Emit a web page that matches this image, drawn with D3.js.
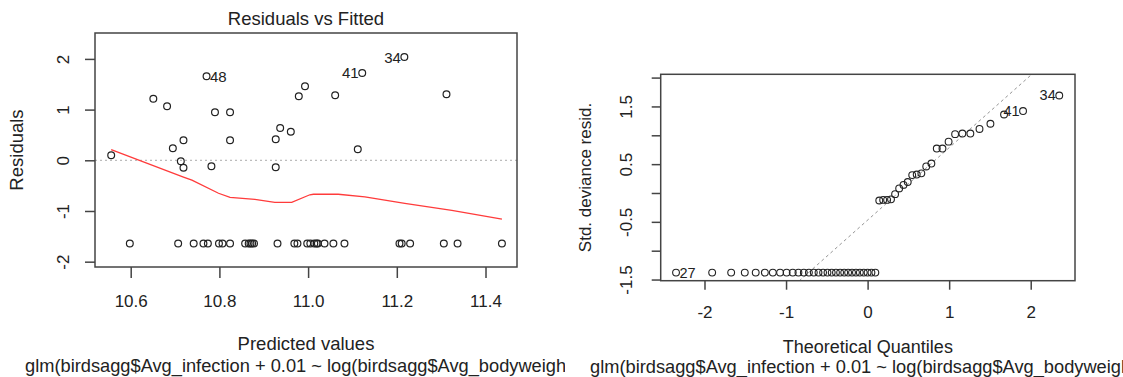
<!DOCTYPE html>
<html>
<head>
<meta charset="utf-8">
<script src="https://cdn.jsdelivr.net/npm/d3@7"></script>
<style>
  body { margin: 0; background: #fff; }
  svg { display: block; font-family: "Liberation Sans", Arial, sans-serif; }
  text { fill: #222; }
</style>
</head>
<body>
<svg id="chart" width="1123" height="377"></svg>
<script>
// ---- Residuals vs Fitted ----
const fitted = [10.556, 10.651, 10.682, 10.695, 10.719, 10.713, 10.719, 10.771, 10.782, 10.790, 10.824, 10.824,
    10.927, 10.937, 10.961, 10.927, 10.979, 10.993, 11.061, 11.122, 11.217, 11.112, 11.312,
    10.598, 10.707, 10.742, 10.764, 10.774, 10.799, 10.807, 10.824, 10.858, 10.866, 10.870, 10.874, 10.878,
    10.931, 10.969, 10.976, 10.998, 11.005, 11.014, 11.019, 11.022, 11.037, 11.057, 11.082,
    11.206, 11.211, 11.230, 11.306, 11.337, 11.437];
const residuals = [0.10, 1.215, 1.065, 0.237, 0.394, -0.02, -0.146, 1.657, -0.118, 0.947, 0.947, 0.394,
    0.414, 0.637, 0.564, -0.138, 1.262, 1.46, 1.282, 1.722, 2.037, 0.217, 1.302,
    -1.64, -1.64, -1.64, -1.64, -1.64, -1.64, -1.64, -1.64, -1.64, -1.64, -1.64, -1.64, -1.64,
    -1.64, -1.64, -1.64, -1.64, -1.64, -1.64, -1.64, -1.64, -1.64, -1.64, -1.64,
    -1.64, -1.64, -1.64, -1.64, -1.64, -1.64];
const residLabels = [{i: 7, id: "48"}, {i: 19, id: "41"}, {i: 20, id: "34"}];
const smoothX = [10.556, 10.719, 10.738, 10.798, 10.824, 10.88, 10.925, 10.963, 11.004, 11.012, 11.068, 11.128, 11.218, 11.324, 11.437];
const smoothY = [0.21, -0.33, -0.39, -0.65, -0.73, -0.77, -0.83, -0.83, -0.68, -0.67, -0.67, -0.72, -0.85, -0.99, -1.16];
const fittedTicks = [10.6, 10.8, 11.0, 11.2, 11.4];
const fittedTickLabels = ["10.6", "10.8", "11.0", "11.2", "11.4"];
const residTicks = [-2, -1, 0, 1, 2];
const residTickLabels = ["-2", "-1", "0", "1", "2"];

// ---- Normal Q-Q ----
const theoretical = [-2.349, -1.906, -1.673, -1.506, -1.372, -1.260, -1.162, -1.073, -0.993, -0.918,
    -0.848, -0.782, -0.720, -0.660, -0.602, -0.546, -0.492, -0.440, -0.388, -0.337,
    -0.287, -0.239, -0.191, -0.143, -0.095, -0.047, 0.000, 0.047, 0.095,
    0.143, 0.191, 0.239, 0.287, 0.337, 0.387, 0.440, 0.492, 0.547, 0.602, 0.659, 0.719,
    0.782, 0.848, 0.918, 0.993, 1.073, 1.162, 1.260, 1.372, 1.506, 1.673, 1.906, 2.350];
const stdResid = [-1.38, -1.38, -1.38, -1.38, -1.38, -1.38, -1.38, -1.38, -1.38, -1.38,
    -1.38, -1.38, -1.38, -1.38, -1.38, -1.38, -1.38, -1.38, -1.38, -1.38,
    -1.38, -1.38, -1.38, -1.38, -1.38, -1.38, -1.38, -1.38, -1.38,
    -0.13, -0.12, -0.12, -0.11, -0.02, 0.08, 0.14, 0.19, 0.31, 0.32, 0.34, 0.46,
    0.51, 0.77, 0.77, 0.89, 1.02, 1.03, 1.03, 1.11, 1.20, 1.36, 1.42, 1.69];
const qqLabels = [{i: 0, id: "27", side: "right"}, {i: 51, id: "41", side: "left"}, {i: 52, id: "34", side: "left"}];
const qqLine = {intercept: -0.47, slope: 1.255};
const quantTicks = [-2, -1, 0, 1, 2];
const quantTickLabels = ["-2", "-1", "0", "1", "2"];
const stdTicks = [-1.5, -1.0, -0.5, 0, 0.5, 1.0, 1.5, 2.0];
const stdTickLabels = ["-1.5", "", "-0.5", "", "0.5", "", "1.5", ""];

const subTitle = "glm(birdsagg$Avg_infection + 0.01 ~ log(birdsagg$Avg_bodyweight))";

const svg = d3.select("#chart");
const defs = svg.append("defs");
defs.append("clipPath").attr("id", "leftClip").append("rect")
    .attr("x", 0).attr("y", 0).attr("width", 565).attr("height", 377);

// ===== left panel =====
let L = {left: 95, right: 517, top: 33, bottom: 267};
let x1 = d3.scaleLinear().domain([10.5195, 11.471]).range([L.left, L.right]);
let y1 = d3.scaleLinear().domain([-2.105, 2.511]).range([L.bottom, L.top]);

let left = svg.append("g").attr("clip-path", "url(#leftClip)");

left.append("line")
    .attr("x1", L.left).attr("x2", L.right)
    .attr("y1", y1(0)).attr("y2", y1(0))
    .attr("stroke", "#aaa").attr("stroke-width", 1).attr("stroke-dasharray", "2,3");

left.selectAll("circle.pt")
    .data(fitted)
    .enter().append("circle")
    .attr("class", "pt")
    .attr("cx", function(d) { return x1(d); })
    .attr("cy", function(d, i) { return y1(residuals[i]); })
    .attr("r", 3.4)
    .attr("fill", "none")
    .attr("stroke", "#222")
    .attr("stroke-width", 1.2);

left.append("path")
    .datum(smoothX)
    .attr("d", d3.line()
        .x(function(d) { return x1(d); })
        .y(function(d, i) { return y1(smoothY[i]); }))
    .attr("fill", "none")
    .attr("stroke", "#ff3b3b")
    .attr("stroke-width", 1.3);

left.selectAll("text.id")
    .data(residLabels)
    .enter().append("text")
    .attr("x", function(d) { return x1(fitted[d.i]) + (d.id === "48" ? 3.5 : -3.5); })
    .attr("y", function(d) { return y1(residuals[d.i]) + 5.5; })
    .attr("text-anchor", function(d) { return d.id === "48" ? "start" : "end"; })
    .style("font-size", "15px")
    .text(function(d) { return d.id; });

left.append("rect")
    .attr("x", L.left).attr("y", L.top)
    .attr("width", L.right - L.left).attr("height", L.bottom - L.top)
    .attr("fill", "none").attr("stroke", "#444").attr("stroke-width", 1.5);

let xAxis1 = left.append("g")
    .attr("transform", "translate(0," + L.bottom + ")")
    .call(d3.axisBottom(x1).tickValues(fittedTicks).tickSize(11)
        .tickFormat(function(d, i) { return fittedTickLabels[i]; }));
xAxis1.select(".domain").remove();
xAxis1.selectAll("line").attr("stroke", "#444").attr("stroke-width", 1.5);
xAxis1.selectAll("text").attr("y", 40).attr("dy", 0)
    .style("font-size", "17px").attr("fill", "#222").attr("font-family", null);

let yAxis1 = left.append("g")
    .attr("transform", "translate(" + L.left + ",0)")
    .call(d3.axisLeft(y1).tickValues(residTicks).tickSize(10)
        .tickFormat(function(d, i) { return residTickLabels[i]; }));
yAxis1.select(".domain").remove();
yAxis1.selectAll("line").attr("stroke", "#444").attr("stroke-width", 1.5);
yAxis1.selectAll("text")
    .attr("transform", "rotate(-90)")
    .attr("x", 0).attr("y", -26).attr("dy", 0)
    .attr("text-anchor", "middle")
    .style("font-size", "17px").attr("fill", "#222").attr("font-family", null);

left.append("text")
    .attr("x", (L.left + L.right) / 2).attr("y", 25)
    .attr("text-anchor", "middle").style("font-size", "18.5px")
    .text("Residuals vs Fitted");
left.append("text")
    .attr("transform", "translate(23," + ((L.top + L.bottom) / 2) + ") rotate(-90)")
    .attr("text-anchor", "middle").style("font-size", "18.5px")
    .text("Residuals");
left.append("text")
    .attr("x", (L.left + L.right) / 2).attr("y", 350)
    .attr("text-anchor", "middle").style("font-size", "18.5px")
    .text("Predicted values");
left.append("text")
    .attr("x", 25).attr("y", 372)
    .style("font-size", "18.25px")
    .text(subTitle);

// ===== right panel =====
let R = {left: 660.7, right: 1075, top: 74.3, bottom: 280.7};
let x2 = d3.scaleLinear().domain([-2.537, 2.543]).range([R.left, R.right]);
let y2 = d3.scaleLinear().domain([-1.52, 2.057]).range([R.bottom, R.top]);

defs.append("clipPath").attr("id", "qqClip").append("rect")
    .attr("x", R.left).attr("y", R.top)
    .attr("width", R.right - R.left).attr("height", R.bottom - R.top);

let right = svg.append("g");

right.append("line")
    .attr("clip-path", "url(#qqClip)")
    .attr("x1", x2(-2.6)).attr("x2", x2(2.6))
    .attr("y1", y2(qqLine.intercept + qqLine.slope * -2.6))
    .attr("y2", y2(qqLine.intercept + qqLine.slope * 2.6))
    .attr("stroke", "#888").attr("stroke-width", 0.9).attr("stroke-dasharray", "3,3");

right.selectAll("circle.qq")
    .data(theoretical)
    .enter().append("circle")
    .attr("class", "qq")
    .attr("cx", function(d) { return x2(d); })
    .attr("cy", function(d, i) { return y2(stdResid[i]); })
    .attr("r", 3.4)
    .attr("fill", "none")
    .attr("stroke", "#222")
    .attr("stroke-width", 1.1);

right.selectAll("text.id")
    .data(qqLabels)
    .enter().append("text")
    .attr("x", function(d) { return x2(theoretical[d.i]) + (d.side === "right" ? 3.5 : -3.5); })
    .attr("y", function(d) { return y2(stdResid[d.i]) + 5; })
    .attr("text-anchor", function(d) { return d.side === "right" ? "start" : "end"; })
    .style("font-size", "14.5px")
    .text(function(d) { return d.id; });

right.append("rect")
    .attr("x", R.left).attr("y", R.top)
    .attr("width", R.right - R.left).attr("height", R.bottom - R.top)
    .attr("fill", "none").attr("stroke", "#444").attr("stroke-width", 1.5);

let xAxis2 = right.append("g")
    .attr("transform", "translate(0," + R.bottom + ")")
    .call(d3.axisBottom(x2).tickValues(quantTicks).tickSize(9)
        .tickFormat(function(d, i) { return quantTickLabels[i]; }));
xAxis2.select(".domain").remove();
xAxis2.selectAll("line").attr("stroke", "#444").attr("stroke-width", 1.5);
xAxis2.selectAll("text").attr("y", 37).attr("dy", 0)
    .style("font-size", "17px").attr("fill", "#222").attr("font-family", null);

let yAxis2 = right.append("g")
    .attr("transform", "translate(" + R.left + ",0)")
    .call(d3.axisLeft(y2).tickValues(stdTicks).tickSize(9)
        .tickFormat(function(d, i) { return stdTickLabels[i]; }));
yAxis2.select(".domain").remove();
yAxis2.selectAll("line").attr("stroke", "#444").attr("stroke-width", 1.5);
yAxis2.selectAll("text")
    .attr("transform", "rotate(-90)")
    .attr("x", 0).attr("y", -29).attr("dy", 0)
    .attr("text-anchor", "middle")
    .style("font-size", "17px").attr("fill", "#222").attr("font-family", null);

right.append("text")
    .attr("transform", "translate(591," + ((R.top + R.bottom) / 2) + ") rotate(-90)")
    .attr("text-anchor", "middle").style("font-size", "17px")
    .text("Std. deviance resid.");
right.append("text")
    .attr("x", (R.left + R.right) / 2).attr("y", 353)
    .attr("text-anchor", "middle").style("font-size", "18px")
    .text("Theoretical Quantiles");
right.append("text")
    .attr("x", 590).attr("y", 373)
    .style("font-size", "18.25px")
    .text(subTitle);
</script>
</body>
</html>
